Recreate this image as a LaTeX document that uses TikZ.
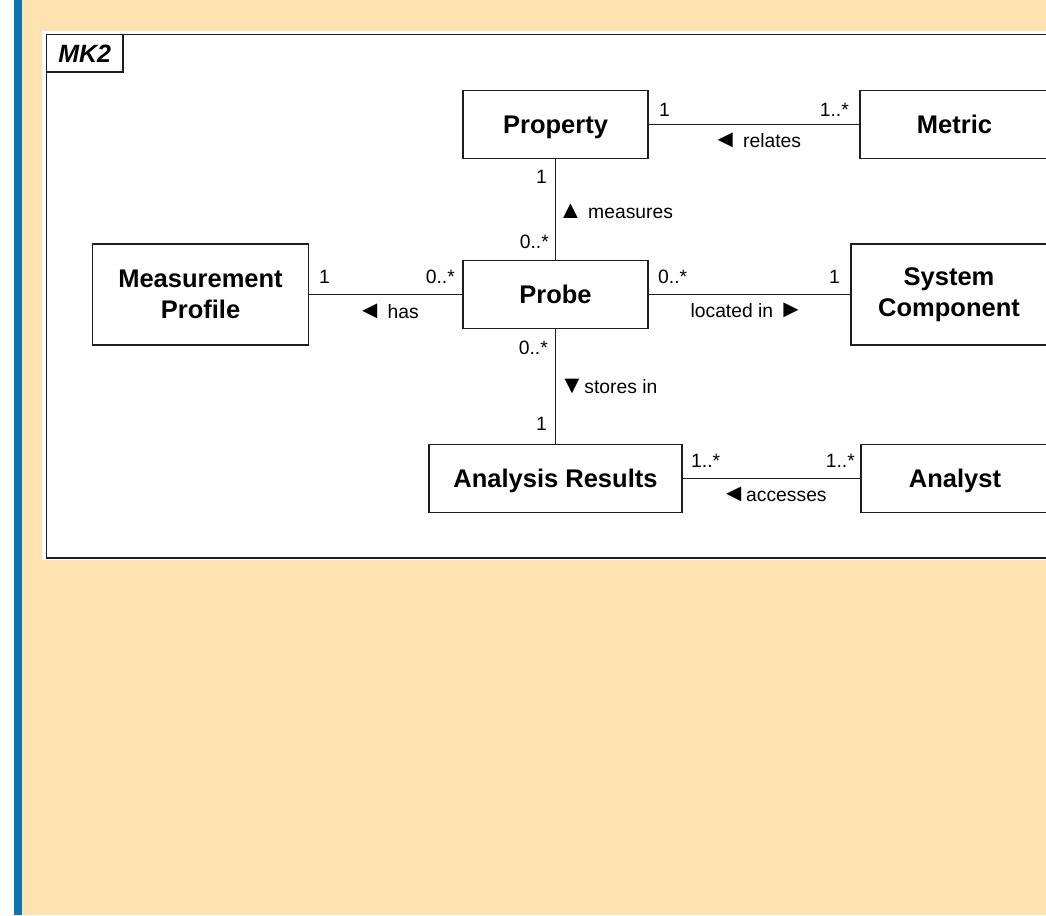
\documentclass[tikz,border=0pt]{standalone}
\usepackage{fontspec}
\usepackage{graphicx}
\setmainfont{Liberation Sans}
\definecolor{pagebg}{HTML}{FEE3B0}
\definecolor{sidebar}{HTML}{0B72B3}
\definecolor{ink}{HTML}{1E1E1E}
% direction marks of the association names, a little larger than the text glyphs
\newcommand\dirmark[1]{\scalebox{1.3}{#1}}
\begin{document}
\begin{tikzpicture}[x=1pt,y=-1pt,
  cls/.style={draw=ink, line width=1.4pt, fill=white, align=center, inner sep=0pt,
    font=\fontsize{25.5}{31}\selectfont\bfseries},
  oneline/.style={text height=18.3pt, text depth=0pt},
  lbl/.style={font=\fontsize{19.3}{22}\selectfont, inner sep=0pt, text=black},
  assoc/.style={draw=ink, line width=1.5pt}]
\useasboundingbox (0,0) rectangle (1046,915);
\clip (0,0) rectangle (1046,915);
% page background and sidebar
\fill[pagebg] (22,0) rectangle (1046,915);
\fill[sidebar] (14,0) rectangle (22,915);
% diagram frame with its name tab
\fill[white] (42,31) rectangle (1070,560);
\draw[ink, line width=1.6pt] (46.5,34.5) rectangle (1070,558);
\node[draw=ink, line width=1.4pt, fill=white, inner sep=0pt, minimum width=76.5pt,
  minimum height=37.5pt, text height=18pt, text depth=0pt,
  font=\fontsize{25}{29}\selectfont\bfseries\itshape]
  (tab) at (84.75,53.25) {MK2};

% classes
\node[cls, oneline, minimum width=185pt, minimum height=68pt] (prop) at (555.5,124.5) {Property};
\node[cls, oneline, minimum width=189pt, minimum height=68pt] (metric) at (954.5,124.5) {Metric};
\node[cls, minimum width=216pt, minimum height=101pt] (mp) at (200.5,294.5) {Measurement\\Profile};
\node[cls, oneline, minimum width=185pt, minimum height=68pt] (probe) at (555.5,294.5) {Probe};
\node[cls, minimum width=196pt, minimum height=101pt] (sys) at (949,294.5) {System\\Component};
\node[cls, oneline, minimum width=253pt, minimum height=68pt] (ar) at (555.5,478.7) {Analysis Results};
\node[cls, oneline, minimum width=188pt, minimum height=68pt] (analyst) at (955,478.7) {Analyst};

% associations
\draw[assoc] (prop.east) -- (metric.west);
\draw[assoc] (prop.south) -- (probe.north);
\draw[assoc] (mp.east) -- (probe.west);
\draw[assoc] (probe.east) -- (sys.west);
\draw[assoc] (probe.south) -- (ar.north);
\draw[assoc] (ar.east) -- (analyst.west);

% multiplicities and association names
\node[lbl, anchor=west] (m1) at (659,110) {1};
\node[lbl, anchor=east] (m2) at (849,110) {1..*};
\node[lbl] (n1) at (757,140) {\dirmark{◄} relates};

\node[lbl, anchor=east] (m3) at (547,176.5) {1};
\node[lbl, anchor=east] (m4) at (549,241.5) {0..*};
\node[lbl] (n2) at (615.5,211) {\dirmark{▲} measures};

\node[lbl, anchor=west] (m5) at (319,277) {1};
\node[lbl, anchor=east] (m6) at (455,277) {0..*};
\node[lbl] (n3) at (388,311.5) {\dirmark{◄} has};

\node[lbl, anchor=west] (m7) at (658,277) {0..*};
\node[lbl, anchor=east] (m8) at (840,277) {1};
\node[lbl] (n4) at (747,310) {located in \dirmark{►}};

\node[lbl, anchor=east] (m9) at (548,348) {0..*};
\node[lbl] (n5) at (608.5,386) {\dirmark{▼}stores in};
\node[lbl, anchor=east] (m10) at (547,424) {1};

\node[lbl, anchor=west] (m11) at (691,461) {1..*};
\node[lbl, anchor=east] (m12) at (855,461) {1..*};
\node[lbl] (n6) at (774,494) {\dirmark{◄}accesses};
\end{tikzpicture}
\end{document}
